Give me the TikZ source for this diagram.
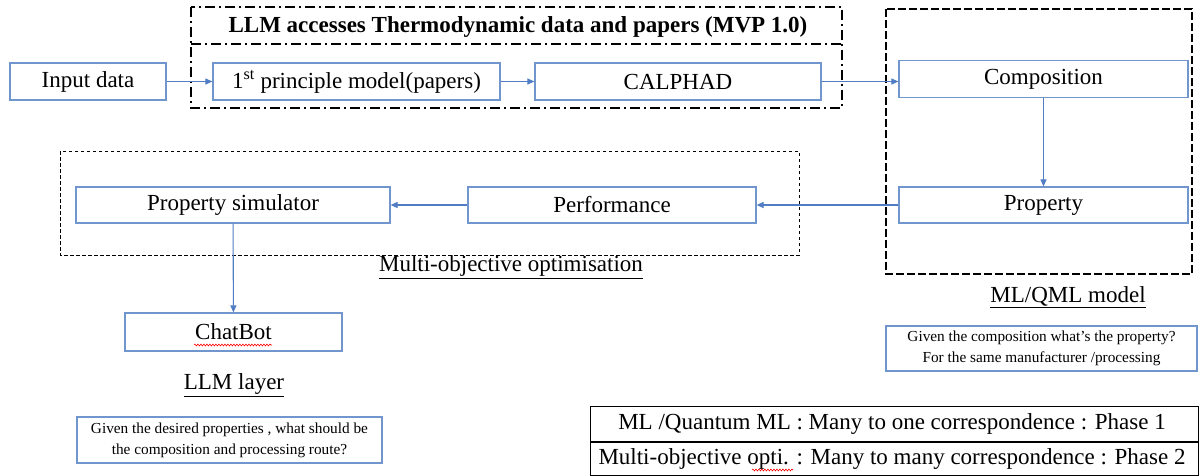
\documentclass[tikz,border=0pt]{standalone}
\usepackage{fontspec}
\setmainfont{Liberation Serif}
\usetikzlibrary{arrows.meta,decorations.pathmorphing}

\definecolor{boxblue}{RGB}{112,150,205}
\definecolor{arrowblue}{RGB}{80,125,195}

\begin{document}
\begin{tikzpicture}[x=1pt,y=-1pt,
    every node/.style={font=\fontsize{23}{27}\selectfont},
    stepbox/.style={draw=boxblue,line width=1.2pt,inner sep=0pt},
    flow/.style={draw=arrowblue,line width=1.1pt,-{Triangle[length=7pt,width=6pt]}},
    spell/.style={draw=red,line width=0.6pt,decorate,decoration={snake,amplitude=0.9pt,segment length=3pt}}]
                \useasboundingbox (0,0) rectangle (1201,475);

                % group frames
                \draw[line width=2pt,dash pattern=on 10pt off 4pt on 2pt off 4pt] (191,7) rectangle (842,108);
                \draw[line width=2pt,dash pattern=on 10pt off 4pt on 2pt off 4pt] (191,44) -- (842,44);
                \draw[line width=1.2pt,dash pattern=on 8pt off 3pt] (886,9) rectangle (1192,274);
                \draw[line width=1pt,dash pattern=on 3.5pt off 2.5pt] (60,151) rectangle (799,255);

                \node[font=\fontsize{23}{27}\selectfont\bfseries] (title) at (518,27) {LLM accesses Thermodynamic data and papers (MVP 1.0)};

                % top row
                \node[stepbox,minimum width=156,minimum height=37] (in) at (88,81.5) {Input data};
                \node[stepbox,minimum width=287,minimum height=37] (fpm) at (356.5,81.5) {1\textsuperscript{st} principle model(papers)};
                \node[stepbox,minimum width=286,minimum height=37] (calphad) at (678,81.5) {CALPHAD};
                \node[stepbox,minimum width=289,minimum height=37] (comp) at (1043.5,79) {Composition};
                \node[stepbox,minimum width=289,minimum height=36] (prop) at (1043.5,205) {Property};

                % optimisation row
                \node[stepbox,minimum width=288,minimum height=36] (perf) at (612,205) {Performance};
                \node[stepbox,minimum width=314,minimum height=36] (psim) at (233,205) {Property simulator};
                \node[stepbox,minimum width=217,minimum height=38] (chat) at (233.5,332) {ChatBot};

                % labels
                \node (moo) at (511,267) {\underline{Multi-objective optimisation}};
                \node (mlq) at (1068,297) {\underline{ML/QML model}};
                \node (llm) at (234,385) {\underline{LLM layer}};

                \node[stepbox,minimum width=305,minimum height=46,align=center,font=\fontsize{15.3}{21}\selectfont] (q1) at (229.5,440)
                    {Given the desired properties , what should be\\the composition and processing route?};
                \node[stepbox,minimum width=311,minimum height=45,align=center,font=\fontsize{15.3}{21}\selectfont] (q2) at (1041.5,348.5)
                    {Given the composition what's the property?\\For the same manufacturer /processing};

                % phase table
                \draw[line width=1pt] (590,406) rectangle (1198,475);
                \draw[line width=2pt] (590,442) -- (1198,442);
                \node (ph1) at (892,424) {ML /Quantum ML : Many to one correspondence : Phase 1};
                \node (ph2) at (892,459) {Multi-objective opti. : Many to many correspondence : Phase 2};

                % spell marks
                \draw[spell] (194,345) -- (272,345);
                \draw[spell] (752,470) -- (793,470);

                % connectors
                \draw[flow] (in) -- (fpm);
                \draw[flow] (fpm) -- (calphad);
                \draw[flow] (calphad.east) -- (calphad.east -| comp.west);
                \draw[flow] (comp) -- (prop);
                \draw[flow] (prop) -- (perf);
                \draw[flow] (perf) -- (psim);
                \draw[flow] (psim) -- (chat);
            \end{tikzpicture}
\end{document}
